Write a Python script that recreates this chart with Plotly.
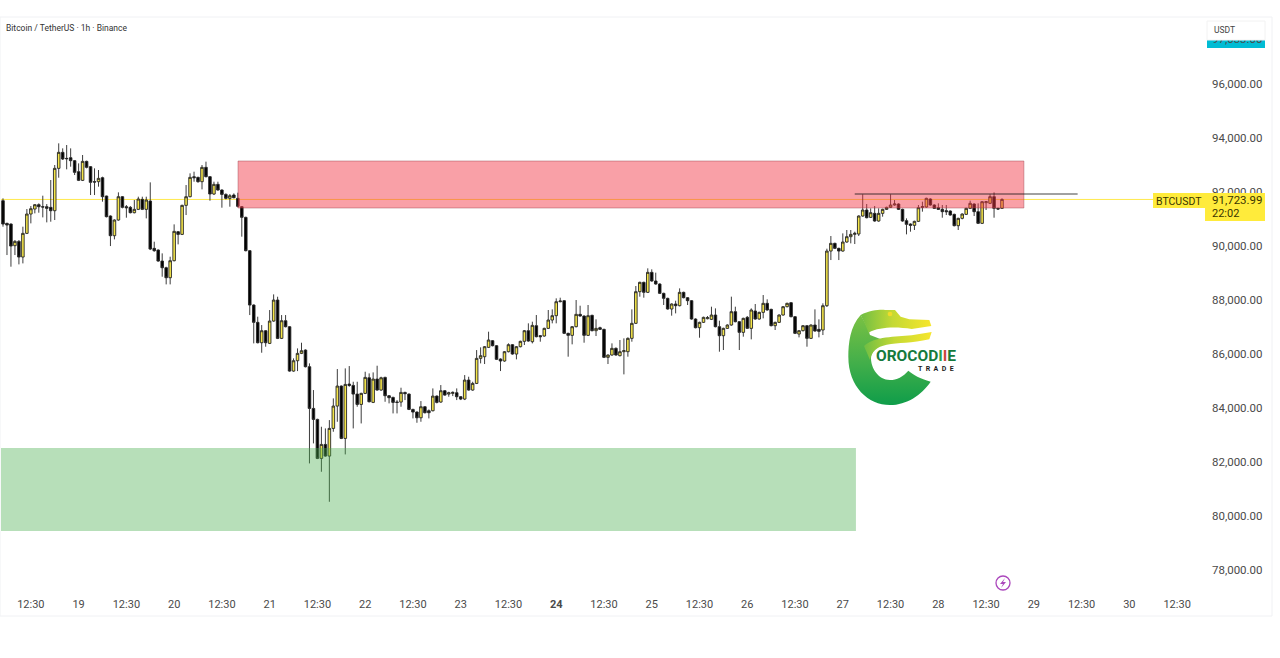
import base64
import plotly.graph_objects as go

opens = [
    91678,90838,90813,90011,90171,89591,90468,91184,91369,91530,
    91455,91455,91431,91307,92876,93469,93246,93271,93160,92752,
    92431,93135,92938,92382,92382,92530,91851,91110,90381,90962,
    91826,91455,91431,91233,91357,91727,91357,91665,89912,89850,
    89442,89195,88825,89455,90529,90430,91505,91826,92567,92542,
    92382,92913,92567,91925,92283,92073,91912,91764,91888,91764,
    91456,91061,89826,87813,87171,86417,86862,86393,87220,87998,
    86578,87232,87010,85367,85750,86022,86146,85528,83984,83577,
    82132,82650,82218,83243,84071,84812,82873,84886,84836,84515,
    84132,84540,85120,84207,85071,84664,85133,84454,84392,84219,
    84219,84577,84515,83947,83849,83638,84046,83898,83898,84441,
    84219,84639,84515,84540,84565,84417,84330,85034,84664,84910,
    85838,85899,86245,86492,86307,85813,85739,86085,86344,85998,
    86270,86468,86863,86455,87048,86678,86665,86949,87258,87419,
    87937,87974,86764,86690,87011,87468,87406,86690,87431,86863,
    86974,86912,85875,85961,86208,85937,86085,86085,86579,87135,
    88308,88654,88283,89024,88703,88592,88246,88061,87666,87851,
    87789,88283,88085,87974,87295,86974,87172,87307,87283,87443,
    87011,86677,86949,87073,87567,87196,86801,87357,86949,87592,
    87295,87542,87876,87653,87048,87172,87443,87752,87900,87382,
    86739,86863,87048,86579,87073,86912,86888,87789,89813,90098,
    89912,89813,90147,90345,90431,90443,91110,91333,91061,91209,
    90925,91209,91357,91431,91518,91555,91357,90937,90814,90764,
    90913,91431,91444,91740,91518,91419,91357,91308,91296,91172,
    90752,91024,91172,91394,91555,91271,90839,91604,91580,91827,91394,91394,
]
closes = [
    90813,90776,89998,90171,89591,90468,91184,91381,91530,91455,
    91443,91394,91307,92876,93469,93222,93234,93160,92728,92431,
    93135,92913,92357,92369,92505,91826,91085,90381,90962,91826,
    91431,91418,91233,91357,91740,91357,91703,89887,89825,89442,
    89195,88825,89455,90542,90430,91505,91826,92542,92530,92382,
    92913,92567,91925,92283,92073,91912,91764,91863,91789,91468,
    91061,89826,87813,87171,86417,86862,86417,87220,87998,86578,
    87232,87010,85367,85750,86022,86121,85528,83984,83577,82132,
    82650,82218,83243,84071,84812,82873,84873,84836,84515,84132,
    84540,85133,84231,85071,84664,85120,84454,84380,84207,84207,
    84577,84528,83947,83849,83638,84046,83824,83824,84441,84207,
    84639,84478,84565,84577,84417,84330,85034,84664,84910,85837,
    85937,86270,86517,86307,85801,85739,86085,86344,85998,86270,
    86468,86863,86480,87060,86641,86641,86949,87258,87419,87937,
    87962,86764,86690,87011,87468,87406,86690,87419,86863,86949,
    86912,85875,85961,86208,85961,86085,86122,86579,87135,88308,
    88654,88283,89024,88703,88592,88246,88061,87666,87851,87789,
    88283,88085,87974,87295,86974,87172,87357,87345,87443,87011,
    86677,86949,87073,87567,87196,86801,87320,86949,87629,87295,
    87542,87876,87629,87048,87172,87443,87752,87876,87382,86764,
    86863,87048,86579,87073,86850,86838,87789,89813,90098,89912,
    89813,90147,90345,90431,90468,91110,91333,91048,91234,90925,
    91209,91357,91431,91518,91555,91357,90925,90801,90764,90913,
    91419,91456,91765,91518,91394,91357,91271,91271,91147,90752,
    91024,91184,91394,91580,91271,90839,91641,91641,91827,91394,91370,91724,
]
highs = [
    91764,90863,90838,90220,90220,90715,91369,91480,91554,91579,
    91863,91554,92444,93000,93802,93617,93740,93617,93185,93061,
    93370,93160,92962,92876,92814,92567,91863,91134,90986,91987,
    91851,91517,91480,91703,91826,91826,91826,92357,90159,89875,
    89727,89232,89603,90801,90554,91530,92258,92691,92752,92567,
    93000,93123,92592,92382,92382,92098,91949,91925,91949,91974,
    91481,91086,89851,87838,87381,87072,86887,87628,88208,88121,
    87442,87442,87035,85837,86207,86417,86170,85652,84664,83602,
    83305,83243,83552,84355,85442,84836,85466,85553,84972,84972,
    84565,85343,85281,85318,85565,85158,85158,84478,84417,84293,
    84750,84602,84540,83972,83873,84256,84071,83947,84725,84466,
    84849,84664,84602,84614,84725,84441,85219,85158,84972,86146,
    86245,86295,86826,86517,86332,85838,86109,86394,86369,86295,
    86492,86888,87135,87196,87443,86702,86974,87629,87653,88061,
    88085,87999,86789,87036,87999,87789,87431,87814,87456,87283,
    87011,86937,85986,86394,86245,86517,86579,86616,87653,88518,
    88678,88678,89172,89135,89012,88617,88271,88085,87876,87974,
    88431,88308,88110,87999,87320,87196,87382,87406,87752,87690,
    87233,86974,87098,88123,87752,87221,87345,87406,87690,87851,
    87567,88184,88024,87678,87196,87468,87777,87900,87925,87406,
    86888,87073,87073,87098,87653,87283,87876,89900,90369,90122,
    89937,90468,90592,90592,90530,91135,91913,91555,91394,91481,
    91394,91382,91456,91913,91703,91580,91382,91024,90839,90937,
    91518,91641,91789,91765,91543,91580,91518,91518,91320,91197,
    91048,91209,91419,91678,91580,91580,91666,91666,91913,91987,91419,91765,
]
lows = [
    90715,89665,89233,89665,89319,89356,90443,90838,91209,91233,
    91060,90875,90900,90962,92530,93185,92839,92938,92629,92406,
    92406,92876,91888,91888,92197,91641,91060,89998,90245,90937,
    91394,91048,91209,91209,91332,91332,91023,89850,89788,89418,
    88862,88578,88578,89430,90060,90406,91147,91801,92382,92345,
    92098,92542,91678,91888,92048,91418,91727,91455,91764,91431,
    90345,89801,87442,86393,86393,86047,86269,86368,87195,86553,
    86553,86985,85343,85343,85367,85997,85503,81947,82688,82107,
    81638,82194,80526,83120,83490,82848,82280,84787,83243,84046,
    83428,84515,84207,84182,84639,84639,84231,84170,83799,83799,
    84046,84293,83923,83614,83453,83490,83799,83614,83873,84170,
    84194,84454,84417,84441,84293,84293,84293,84639,84639,84886,
    85653,85628,86221,86282,85776,85368,85714,86060,85974,85801,
    86245,86332,86455,86393,86616,86455,86641,86925,87135,87135,
    87913,86739,85900,86357,86986,87382,86418,86665,86838,86665,
    86888,85850,85628,85937,85937,85912,85245,85900,86455,87110,
    88122,88085,88258,88678,88567,88221,87814,87641,87419,87505,
    87764,88061,87814,87270,86949,86603,87147,87283,87258,86986,
    86085,86147,86925,87048,87172,86147,86641,86925,86542,87270,
    87270,87320,87604,87023,86888,87147,87419,87727,87357,86739,
    86616,86838,86270,86554,86826,86616,86702,87740,89480,89888,
    89480,89789,90122,90098,90073,90369,91086,91024,91036,90900,
    90900,91086,91333,91407,91493,91333,90900,90431,90530,90592,
    90888,91271,91419,91493,91370,91333,91048,91147,91123,90727,
    90592,90987,91147,91370,91110,90814,90814,91333,91555,91048,91333,91370,
]
hours = list(range(len(opens)))

# time axis, one label every 12 candles
time_ticks = [7 + 12 * k for k in range(25)]
time_labels = ["12:30","19","12:30","20","12:30","21","12:30","22","12:30","23","12:30","<b>24</b>",
               "12:30","25","12:30","26","12:30","27","12:30","28","12:30","29","12:30","30","12:30"]
price_ticks = [78000,80000,82000,84000,86000,88000,90000,92000,94000,96000]
price_labels = [f"{p:,.2f}" for p in price_ticks]
# cyan badge on the price scale, half hidden under the USDT box
badge_tick = 97650
badge_label = "97,033.00"

last_price = 91723.99
resistance = [91407, 93148]
support = [79443, 82517]
trend_level = 91926

# plot area in page pixels
L, R, T, B = 1, 1205, 18, 592
def px(x): return (x - L) / (R - L)
def py(y): return (B - y) / (B - T)

fig = go.Figure(go.Candlestick(
    x=hours, open=opens, high=highs, low=lows, close=closes,
    increasing=dict(fillcolor="#f5e64a", line=dict(color="#262626", width=0.9)),
    decreasing=dict(fillcolor="#000000", line=dict(color="#262626", width=0.9)),
    hoverinfo="skip", showlegend=False,
))

def box(x0, x1, y0, y1, color, layer="above", edge=None):
    return dict(type="rect", xref="paper", yref="paper", x0=px(x0), x1=px(x1), y0=py(y0), y1=py(y1),
                fillcolor=color, line=dict(width=1 if edge else 0, color=edge), layer=layer)

shapes = [
    # page frame
    dict(type="rect", xref="paper", yref="paper", x0=px(0), x1=px(1272), y0=py(616), y1=py(17),
         line=dict(color="#f0f1f4", width=1), layer="below"),
    box(1207, 1265, 38, 48, "#00bcd4", layer="below"),
    dict(type="line", x0=-0.5, x1=302, y0=last_price, y1=last_price, line=dict(color="#ffe94d", width=1), layer="below"),
    dict(type="rect", x0=59.05, x1=256.5, y0=resistance[0], y1=resistance[1], fillcolor="rgba(242,54,69,0.47)",
         line=dict(color="rgba(150,60,70,0.6)", width=0.7), layer="above"),
    dict(type="rect", x0=-0.5, x1=214.3, y0=support[0], y1=support[1], fillcolor="rgba(76,175,80,0.40)",
         line=dict(width=0), layer="above"),
    dict(type="line", x0=214, x1=270, y0=trend_level, y1=trend_level, line=dict(color="#111111", width=0.8), layer="above"),
    box(1153, 1205, 193, 208, "#ffeb3b"),
    box(1205, 1265, 193, 221, "#ffeb3b"),
    box(1207, 1265, 21, 40, "#ffffff", edge="#f2f2f2"),
    dict(type="circle", xref="paper", yref="paper", x0=px(996), x1=px(1010), y0=py(590), y1=py(576),
         line=dict(color="#ab47bc", width=1.3), layer="above"),
    dict(type="path", xref="paper", yref="paper", layer="above", line=dict(width=0), fillcolor="#ab47bc",
         path=f"M {px(1005)} {py(578)} L {px(1000)} {py(584)} L {px(1003)} {py(584)} L {px(1001)} {py(588)} "
              f"L {px(1006)} {py(582)} L {px(1003)} {py(582)} Z"),
]

def label(x, y, text, size=11, color="#4a4a4a", anchor="center", **kw):
    return dict(xref="paper", yref="paper", x=px(x), y=py(y), text=text, showarrow=False, xanchor=anchor,
                yanchor="middle", font=dict(size=size, color=color, family="Roboto"), **kw)

annotations = [
    label(4, 28, "Bitcoin / TetherUS · 1h · Binance", size=8.5, color="#333333", anchor="left"),
    label(1212, 30, "USDT", size=8.5, color="#444444", anchor="left"),
    label(1179, 201, "BTCUSDT", size=10.5, color="#3a3500"),
    label(1237, 200, "91,723.99", size=11.5, color="#3a3500"),
    label(1225, 213, "22:02", size=11, color="#3a3500"),
    label(916, 356, "<b>OROCOD<span style='color:#2e9e46'>I</span><span style='color:#c9483a'>I</span>E</b>",
          size=15.5, color="#157a3c"),
    label(936, 368.5, "<b>T  R  A  D  E</b>", size=7, color="#1b1b1b"),
]

# crocodile mark, the wordmark above is real text
logo_svg = """<svg xmlns="http://www.w3.org/2000/svg" viewBox="0 0 390 330">
<defs>
<linearGradient id="a" x1="0" y1="0" x2="0" y2="1">
<stop offset="0" stop-color="#7ac143"/><stop offset="0.5" stop-color="#46b04a"/><stop offset="1" stop-color="#0f9d4a"/></linearGradient>
<linearGradient id="b" x1="0" y1="0" x2="1" y2="0">
<stop offset="0" stop-color="#6fbe44"/><stop offset="0.45" stop-color="#c4d934"/><stop offset="1" stop-color="#f7e62c"/></linearGradient>
</defs>
<path fill="url(#a)" d="M62 45 C30 80 25 130 25 170 C25 260 85 315 150 315 C200 315 245 285 272 245 C240 235 220 225 205 212 C190 230 170 240 150 240 C115 240 93 205 93 175 C93 150 115 132 150 128 L90 105 C85 85 70 60 62 45Z"/>
<path fill="url(#b)" d="M62 45 C90 30 125 28 135 30 L165 30 L182 50 L208 58 L268 60 L274 78 L215 87 C170 80 118 80 86 98 C78 78 70 62 62 45Z"/>
<path fill="url(#b)" d="M72 138 C105 108 165 112 215 106 L275 96 L268 118 C215 130 175 128 140 134 C110 140 95 155 90 180 Z"/>
<circle cx="150" cy="42" r="7" fill="#f0dc2a"/>
</svg>"""
logo_src = "data:image/svg+xml;base64," + base64.b64encode(logo_svg.encode()).decode()

fig.update_layout(
    width=1280, height=658, autosize=False,
    margin=dict(l=L, r=1280 - R, t=T, b=658 - B),
    paper_bgcolor="white", plot_bgcolor="white",
    font=dict(family="Roboto", color="#4a4a4a", size=11),
    shapes=shapes, annotations=annotations,
    images=[dict(source=logo_src, xref="paper", yref="paper", x=px(840), y=py(300), sizex=130 / (R - L),
                 sizey=110 / (B - T), xanchor="left", yanchor="top", sizing="stretch", layer="above")],
    boxgap=0.08,
)
fig.update_xaxes(range=[-0.5, 302], rangeslider_visible=False, showgrid=False, zeroline=False, showline=False,
                 ticks="", tickmode="array", tickvals=time_ticks, ticktext=time_labels, tickangle=0,
                 ticklabelstandoff=4, tickfont=dict(size=11, color="#4a4a4a"))
fig.update_yaxes(range=[77184, 98445], side="right", showgrid=False, zeroline=False, showline=False,
                 ticks="", tickmode="array", tickvals=price_ticks + [badge_tick],
                 ticktext=price_labels + [badge_label],
                 ticklabelstandoff=6, tickfont=dict(size=11.5, color="#4a4a4a"))

fig.write_html("out.html", config=dict(displayModeBar=False), post_script="document.body.style.margin='0';")
